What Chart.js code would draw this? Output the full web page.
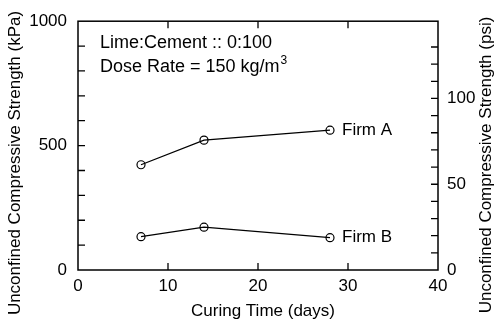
<!DOCTYPE html>
<html lang="en">
<head>
<meta charset="UTF-8">
<title>Unconfined Compressive Strength vs Curing Time</title>
<script src="https://cdn.jsdelivr.net/npm/chart.js"></script>
<style>
  body { margin: 0; background: #fff; }
</style>
</head>
<body>
<canvas id="chart" width="498" height="329"></canvas>
<script>
// data
const curingDays = [7, 14, 28];
const firmA = [423, 522, 562];   // kPa
const firmB = [134, 172, 130];   // kPa
const seriesNames = ['Firm A', 'Firm B'];
const kpaLabels = [0, 500, 1000];
const psiLabels = [0, 50, 100];
const noteLines = ['Lime:Cement :: 0:100', 'Dose Rate = 150 kg/m'];
const KPA_PER_PSI = 6.894757;

const FONT = '"Liberation Sans", Arial, sans-serif';
Chart.defaults.font.family = FONT;
Chart.defaults.font.size = 17;
Chart.defaults.color = '#000';

// frame, inward ticks, titles and notes
const decorations = {
  id: 'decorations',
  afterDraw(chart) {
    const { ctx, chartArea: a, scales } = chart;
    const tl = 7;
    ctx.save();
    ctx.strokeStyle = '#000';
    ctx.lineWidth = 1.5;
    ctx.strokeRect(a.left, a.top, a.right - a.left, a.bottom - a.top);

    ctx.lineWidth = 1.3;
    ctx.beginPath();
    scales.x.ticks.forEach(t => {
      const px = scales.x.getPixelForValue(t.value);
      if (px <= a.left + 1 || px >= a.right - 1) return;
      ctx.moveTo(px, a.bottom); ctx.lineTo(px, a.bottom - tl);
      ctx.moveTo(px, a.top); ctx.lineTo(px, a.top + tl);
    });
    scales.y.ticks.forEach(t => {
      const py = scales.y.getPixelForValue(t.value);
      if (py <= a.top + 1 || py >= a.bottom - 1) return;
      ctx.moveTo(a.left, py); ctx.lineTo(a.left + tl, py);
    });
    scales.y2.ticks.forEach(t => {
      if (Math.abs(t.value % 10) > 1e-6) return;
      const py = scales.y2.getPixelForValue(t.value);
      if (py <= a.top + 1 || py >= a.bottom - 1) return;
      ctx.moveTo(a.right, py); ctx.lineTo(a.right - tl, py);
    });
    ctx.stroke();

    ctx.fillStyle = '#000';
    ctx.font = '17px ' + FONT;
    ctx.textBaseline = 'middle';

    // axis titles
    ctx.textAlign = 'center';
    ctx.fillText('Curing Time (days)', 263, 311);
    ctx.save();
    ctx.translate(15, 163);
    ctx.rotate(-Math.PI / 2);
    ctx.fillText('Unconfined Compressive Strength (kPa)', 0, 0);
    ctx.restore();
    ctx.save();
    ctx.translate(486, 165);
    ctx.rotate(-Math.PI / 2);
    ctx.fillText('Unconfined Compressive Strength (psi)', 0, 0);
    ctx.restore();

    // series labels beside the last point
    ctx.textAlign = 'left';
    const last = curingDays.length - 1;
    [firmA, firmB].forEach((vals, i) => {
      const px = scales.x.getPixelForValue(curingDays[last]);
      const py = scales.y.getPixelForValue(vals[last]);
      ctx.fillText(seriesNames[i], px + 12, py);
    });

    // note text
    ctx.font = '18px ' + FONT;
    ctx.fillText(noteLines[0], a.left + 22, 43);
    ctx.fillText(noteLines[1], a.left + 22, 67);
    const w = ctx.measureText(noteLines[1]).width;
    ctx.font = '12px ' + FONT;
    ctx.fillText('3', a.left + 22 + w + 1, 61);
    ctx.restore();
  }
};

const pointStyle = {
  borderColor: '#000',
  backgroundColor: '#fff',
  borderWidth: 1.3,
  pointRadius: 4,
  pointBorderWidth: 1.2,
  pointBackgroundColor: 'rgba(255,255,255,0)',
  pointBorderColor: '#000',
  tension: 0,
  fill: false
};

new Chart(document.getElementById('chart'), {
  type: 'line',
  data: {
    datasets: [
      Object.assign({ label: seriesNames[0], data: curingDays.map((d, i) => ({ x: d, y: firmA[i] })) }, pointStyle),
      Object.assign({ label: seriesNames[1], data: curingDays.map((d, i) => ({ x: d, y: firmB[i] })) }, pointStyle)
    ]
  },
  options: {
    responsive: false,
    animation: false,
    layout: { padding: { top: 17, left: 0, right: 0, bottom: 0 } },
    plugins: { legend: { display: false }, tooltip: { enabled: false } },
    scales: {
      x: {
        type: 'linear',
        min: 0, max: 40,
        grid: { display: false, drawTicks: false },
        border: { display: false },
        ticks: { stepSize: 10, padding: 6, maxRotation: 0, autoSkip: false },
        afterFit: s => { s.height = 59; }
      },
      y: {
        position: 'left',
        min: 0, max: 1000,
        grid: { display: false, drawTicks: false },
        border: { display: false },
        ticks: {
          stepSize: 100, padding: 11, autoSkip: false,
          callback: v => kpaLabels.includes(v) ? v : ''
        },
        afterFit: s => { s.width = 78; }
      },
      y2: {
        position: 'right',
        min: 0, max: 1000 / KPA_PER_PSI,
        grid: { display: false, drawTicks: false },
        border: { display: false },
        ticks: {
          stepSize: 10, padding: 9, autoSkip: false,
          callback: v => psiLabels.includes(v) ? v : ''
        },
        afterFit: s => { s.width = 60; }
      }
    }
  },
  plugins: [decorations]
});
</script>
</body>
</html>
